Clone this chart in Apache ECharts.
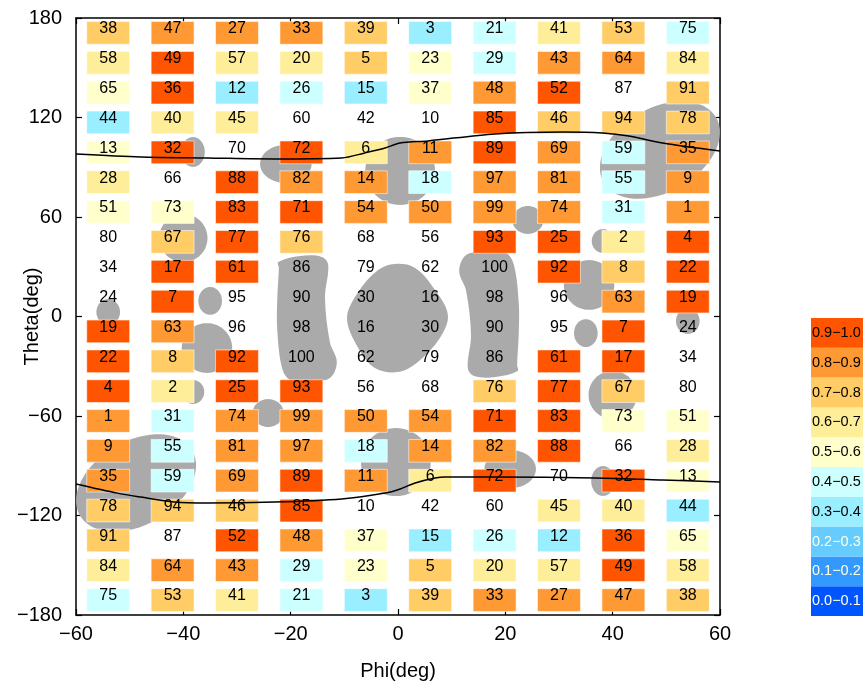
<!DOCTYPE html>
<html>
<head>
<meta charset="utf-8">
<script src="https://cdn.jsdelivr.net/npm/echarts@6/dist/echarts.min.js"></script>
<style>
html,body{margin:0;padding:0;background:#fff;}
#chart{width:863px;height:686px;}
</style>
</head>
<body>
<div id="chart"></div>
<script>
// ---------- DATA ----------
const phiCenters = [-54, -42, -30, -18, -6, 6, 18, 30, 42, 54];
const thetaCenters = [171, 153, 135, 117, 99, 81, 63, 45, 27, 9, -9, -27, -45, -63, -81, -99, -117, -135, -153, -171];

// number printed in each cell (rows top to bottom, columns left to right)
const cellLabels = [
  [38, 47, 27, 33, 39, 3, 21, 41, 53, 75],
  [58, 49, 57, 20, 5, 23, 29, 43, 64, 84],
  [65, 36, 12, 26, 15, 37, 48, 52, 87, 91],
  [44, 40, 45, 60, 42, 10, 85, 46, 94, 78],
  [13, 32, 70, 72, 6, 11, 89, 69, 59, 35],
  [28, 66, 88, 82, 14, 18, 97, 81, 55, 9],
  [51, 73, 83, 71, 54, 50, 99, 74, 31, 1],
  [80, 67, 77, 76, 68, 56, 93, 25, 2, 4],
  [34, 17, 61, 86, 79, 62, 100, 92, 8, 22],
  [24, 7, 95, 90, 30, 16, 98, 96, 63, 19],
  [19, 63, 96, 98, 16, 30, 90, 95, 7, 24],
  [22, 8, 92, 100, 62, 79, 86, 61, 17, 34],
  [4, 2, 25, 93, 56, 68, 76, 77, 67, 80],
  [1, 31, 74, 99, 50, 54, 71, 83, 73, 51],
  [9, 55, 81, 97, 18, 14, 82, 88, 66, 28],
  [35, 59, 69, 89, 11, 6, 72, 70, 32, 13],
  [78, 94, 46, 85, 10, 42, 60, 45, 40, 44],
  [91, 87, 52, 48, 37, 15, 26, 12, 36, 65],
  [84, 64, 43, 29, 23, 5, 20, 57, 49, 58],
  [75, 53, 41, 21, 3, 39, 33, 27, 47, 38]
];

// colour value of each cell box (null = no box)
const cellRatio = [
  [0.75, 0.85, 0.85, 0.85, 0.75, 0.35, 0.45, 0.65, 0.75, 0.45],
  [0.65, 0.95, 0.65, 0.65, 0.75, 0.55, 0.45, 0.85, 0.85, 0.65],
  [0.55, 0.95, 0.35, 0.45, 0.35, 0.55, 0.85, 0.95, null, 0.75],
  [0.35, 0.65, 0.65, null, null, null, 0.95, 0.75, 0.75, 0.75],
  [0.55, 0.95, null, 0.95, 0.65, 0.85, 0.95, 0.85, 0.45, 0.85],
  [0.65, null, 0.95, 0.85, 0.85, 0.45, 0.85, 0.85, 0.45, 0.85],
  [0.55, 0.55, 0.95, 0.95, 0.85, 0.85, 0.85, 0.85, 0.45, 0.85],
  [null, 0.75, 0.95, 0.75, null, null, 0.95, 0.95, 0.65, 0.95],
  [null, 0.95, 0.95, null, null, null, null, 0.95, 0.75, 0.95],
  [null, 0.95, null, null, null, null, null, null, 0.85, 0.95],
  [0.95, 0.85, null, null, null, null, null, null, 0.95, null],
  [0.95, 0.75, 0.95, null, null, null, null, 0.95, 0.95, null],
  [0.95, 0.65, 0.95, 0.95, null, null, 0.75, 0.95, 0.75, null],
  [0.85, 0.45, 0.85, 0.85, 0.85, 0.85, 0.95, 0.95, 0.55, 0.55],
  [0.85, 0.45, 0.85, 0.85, 0.45, 0.85, 0.85, 0.95, null, 0.65],
  [0.85, 0.45, 0.85, 0.95, 0.85, 0.65, 0.95, null, 0.95, 0.55],
  [0.75, 0.75, 0.75, 0.95, null, null, null, 0.65, 0.65, 0.35],
  [0.75, null, 0.95, 0.85, 0.55, 0.35, 0.45, 0.35, 0.95, 0.55],
  [0.65, 0.85, 0.85, 0.45, 0.55, 0.75, 0.65, 0.65, 0.95, 0.65],
  [0.45, 0.75, 0.65, 0.45, 0.35, 0.75, 0.85, 0.85, 0.85, 0.75]
];

// colour scale bins
const binLabels = ['0.0\u22120.1', '0.1\u22120.2', '0.2\u22120.3', '0.3\u22120.4', '0.4\u22120.5',
                   '0.5\u22120.6', '0.6\u22120.7', '0.7\u22120.8', '0.8\u22120.9', '0.9\u22121.0'];
const binMin = [0.0, 0.1, 0.2, 0.3, 0.4, 0.5, 0.6, 0.7, 0.8, 0.9];
const binColors = ['#0055FF', '#3399FF', '#66CCFF', '#99EEFF', '#CCFFFF',
                   '#FFFFCC', '#FFEE99', '#FFCC66', '#FF9933', '#FF5500'];
const binTextColors = ['#FFFFE0', '#FFFFE0', '#FFFFE0', '#000', '#000', '#000', '#000', '#000', '#000', '#000'];

// grey regions: ellipses [phi, theta, half-width(deg), half-height(deg), rotation(deg)]
const greyEllipses = [
  [-38.2, 99.2, 2.2, 9.0, 0],
  [-20.9, 92.0, 4.8, 11.5, 0],
  [0.4, 87.8, 6.5, 20.5, 0],
  [24.2, 58.2, 2.9, 8.4, 0],
  [48.8, 100.4, 12.1, 25.3, 30],
  [-40.0, 47.3, 4.5, 14.5, 0],
  [-35.0, 9.4, 2.2, 8.4, 0],
  [-54.0, 2.7, 2.2, 7.8, 0],
  [-35.6, -19.0, 4.7, 15.0, 0],
  [-38.2, -45.5, 2.1, 7.2, 0],
  [35.0, -10.0, 2.2, 8.4, 0],
  [35.6, 19.0, 4.7, 15.0, 0],
  [38.2, 45.5, 2.1, 7.2, 0],
  [40.0, -47.3, 4.5, 14.5, 0],
  [54.0, -2.7, 2.2, 7.8, 0],
  [-24.2, -58.2, 2.9, 8.4, 0],
  [-48.8, -100.4, 12.1, 25.3, 30],
  [-0.4, -87.8, 6.5, 20.5, 0],
  [20.9, -92.0, 4.8, 11.5, 0],
  [38.2, -99.2, 2.2, 9.0, 0]
];

// grey regions: outlines [phi, theta]
const greyLeftBean = [[-22.3, 32.9], [-18.2, 36.5], [-14.2, 35.9], [-13.0, 31.1], [-13.6, 11.2], [-12.7, -15.4],
  [-11.4, -27.4], [-12.7, -37.1], [-16.4, -38.9], [-20.1, -38.3], [-21.6, -31.1], [-22.5, -8.1], [-22.5, 10.0], [-22.2, 29.3]];
const greyRightBean = [[22.3, -32.9], [18.2, -36.5], [14.2, -35.9], [13.0, -31.1], [13.6, -11.2], [12.7, 15.4],
  [11.4, 27.4], [12.7, 37.1], [16.4, 38.9], [20.1, 38.3], [21.6, 31.1], [22.5, 8.1], [22.5, -10.0], [22.2, -29.3]];
const greyCentre = [[-0.6, 31.7], [3.2, 29.3], [6.9, 16.0], [9.3, 0.9], [7.8, -13.0], [3.7, -27.4], [0.0, -33.5],
  [-4.3, -31.1], [-7.4, -19.0], [-9.5, -0.9], [-7.4, 14.8], [-3.7, 28.0]];
const greyOutlines = [greyLeftBean, greyRightBean, greyCentre];

// black boundary curves [phi, theta]
const upperCurve = [[-60, 98.0], [-47.9, 96.2], [-35.5, 95.6], [-23, 95.0], [-10.5, 95.6], [-6.2, 98.6], [-2.4, 101.6],
  [0.4, 104.6], [5.6, 105.9], [18.1, 110.1], [30.7, 111.3], [38.1, 110.7], [43, 108.9], [49.3, 104.6], [60, 99.8]];
const lowerCurve = [[-60, -101.0], [-52.3, -106.5], [-47.9, -108.9], [-41.7, -111.9], [-35.5, -112.5], [-23, -111.9],
  [-10.5, -110.0], [-2.4, -106.5], [0.4, -104.0], [3.2, -100.4], [6.9, -97.4], [8.8, -96.8], [18.1, -96.8],
  [36.8, -97.4], [49.3, -98.6], [60, -99.8]];

const xTicks = { min: -60, max: 60, step: 20 };
const yTicks = { min: -180, max: 180, step: 60 };

// ---------- BUILD ----------
const boxData = [], textData = [];
thetaCenters.forEach((th, r) => {
  phiCenters.forEach((ph, c) => {
    textData.push([ph, th, cellLabels[r][c]]);
    if (cellRatio[r][c] !== null) boxData.push([ph, th, cellRatio[r][c]]);
  });
});

const FONT = 'Liberation Sans';
const minusFmt = v => String(v).replace('-', '\u2212');

const chart = echarts.init(document.getElementById('chart'), null, { renderer: 'canvas' });

const option = {
  animation: false,
  backgroundColor: '#fff',
  grid: [
    { left: 76, right: 143, top: 18, bottom: 71, show: false, containLabel: false, outerBoundsMode: 'none' },
    { left: 811, top: 318, width: 80, height: 298, show: false, containLabel: false, outerBoundsMode: 'none' }
  ],
  visualMap: {
    type: 'piecewise', show: false, dimension: 2, seriesIndex: 1,
    pieces: binMin.map((m, i) => ({ gte: m, lt: m + 0.1, color: binColors[i] }))
  },
  xAxis: [
    { gridIndex: 0, type: 'value', min: xTicks.min, max: xTicks.max, interval: xTicks.step, position: 'bottom',
      name: 'Phi(deg)', nameLocation: 'middle', nameGap: 46, nameMoveOverlap: false,
      nameTextStyle: { fontFamily: FONT, fontSize: 20, color: '#000' },
      axisLine: { show: true, onZero: false, lineStyle: { color: '#000', width: 1.5 } },
      axisTick: { show: true, inside: true, length: 6, lineStyle: { color: '#000', width: 1.2 } },
      axisLabel: { fontFamily: FONT, fontSize: 20, color: '#000', margin: 9, formatter: minusFmt },
      splitLine: { show: false } },
    { gridIndex: 0, type: 'value', min: xTicks.min, max: xTicks.max, interval: xTicks.step, position: 'top',
      axisLine: { show: true, onZero: false, lineStyle: { color: '#000', width: 1.5 } },
      axisTick: { show: true, inside: true, length: 6, lineStyle: { color: '#000', width: 1.2 } },
      axisLabel: { show: false }, splitLine: { show: false } },
    { gridIndex: 1, type: 'value', min: 0, max: 1, show: false }
  ],
  yAxis: [
    { gridIndex: 0, type: 'value', min: yTicks.min, max: yTicks.max, interval: yTicks.step, position: 'left',
      name: 'Theta(deg)', nameLocation: 'middle', nameGap: 34, nameRotate: 90, nameMoveOverlap: false,
      nameTextStyle: { fontFamily: FONT, fontSize: 20, color: '#000' },
      axisLine: { show: true, onZero: false, lineStyle: { color: '#000', width: 1.5 } },
      axisTick: { show: true, inside: true, length: 6, lineStyle: { color: '#000', width: 1.2 } },
      axisLabel: { fontFamily: FONT, fontSize: 20, color: '#000', margin: 14, formatter: minusFmt },
      splitLine: { show: false } },
    { gridIndex: 0, type: 'value', min: yTicks.min, max: yTicks.max, interval: yTicks.step, position: 'right',
      axisLine: { show: true, onZero: false, lineStyle: { color: '#000', width: 1.5 } },
      axisTick: { show: true, inside: true, length: 6, lineStyle: { color: '#000', width: 1.2 } },
      axisLabel: { show: false }, splitLine: { show: false } },
    { gridIndex: 1, type: 'category', data: binLabels, show: false }
  ],
  series: [
    { // grey regions (ellipses)
      type: 'custom', xAxisIndex: 0, yAxisIndex: 0, z: 1, clip: true, silent: true,
      data: greyEllipses,
      renderItem: function (params, api) {
        const c = api.coord([api.value(0), api.value(1)]);
        const s = api.size([api.value(2), api.value(3)]);
        const rot = api.value(4) * Math.PI / 180;
        const pts = [];
        for (let k = 0; k < 64; k++) {
          const t = k / 64 * 2 * Math.PI;
          const ex = s[0] * Math.cos(t), ey = s[1] * Math.sin(t);
          pts.push([c[0] + ex * Math.cos(rot) + ey * Math.sin(rot), c[1] - ex * Math.sin(rot) + ey * Math.cos(rot)]);
        }
        return { type: 'polygon', shape: { points: pts }, style: { fill: '#AAAAAA' } };
      }
    },
    { // coloured boxes
      type: 'custom', xAxisIndex: 0, yAxisIndex: 0, z: 3, clip: true, silent: true,
      data: boxData,
      renderItem: function (params, api) {
        const c = api.coord([api.value(0), api.value(1)]);
        const s = api.size([8, 13.7]);
        return { type: 'rect',
          shape: { x: c[0] - s[0] / 2, y: c[1] - s[1] / 2, width: s[0], height: s[1] },
          style: { fill: api.visual('color'), stroke: 'rgba(255,255,255,0.55)', lineWidth: 1 } };
      }
    },
    { // grey regions (outlines)
      type: 'custom', xAxisIndex: 0, yAxisIndex: 0, z: 2, clip: true, silent: true,
      data: greyOutlines.map((p, i) => [i]),
      renderItem: function (params, api) {
        const poly = greyOutlines[api.value(0)].map(p => api.coord(p));
        return { type: 'polygon', shape: { points: poly, smooth: 0.35 }, style: { fill: '#AAAAAA' } };
      }
    },
    { type: 'line', xAxisIndex: 0, yAxisIndex: 0, z: 4, data: upperCurve, showSymbol: false, smooth: 0.3,
      lineStyle: { color: '#000', width: 1.5 }, silent: true },
    { type: 'line', xAxisIndex: 0, yAxisIndex: 0, z: 4, data: lowerCurve, showSymbol: false, smooth: 0.3,
      lineStyle: { color: '#000', width: 1.5 }, silent: true },
    { // cell numbers
      type: 'custom', xAxisIndex: 0, yAxisIndex: 0, z: 5, silent: true,
      data: textData,
      renderItem: function (params, api) {
        const c = api.coord([api.value(0), api.value(1)]);
        return { type: 'text', style: { text: String(api.value(2)), x: c[0], y: c[1] - 4,
          textAlign: 'center', textVerticalAlign: 'middle', font: '16px "' + FONT + '"', fill: '#000' } };
      }
    },
    { // colour key
      type: 'bar', xAxisIndex: 2, yAxisIndex: 2, barWidth: '100%', barCategoryGap: '0%', silent: true,
      data: binLabels.map((b, i) => ({ value: 1, itemStyle: { color: binColors[i] },
        label: { color: binTextColors[i] } })),
      label: { show: true, position: 'insideLeft', distance: 1, formatter: '{b}',
        fontFamily: FONT, fontSize: 14.5 }
    }
  ]
};
chart.setOption(option);
</script>
</body>
</html>
